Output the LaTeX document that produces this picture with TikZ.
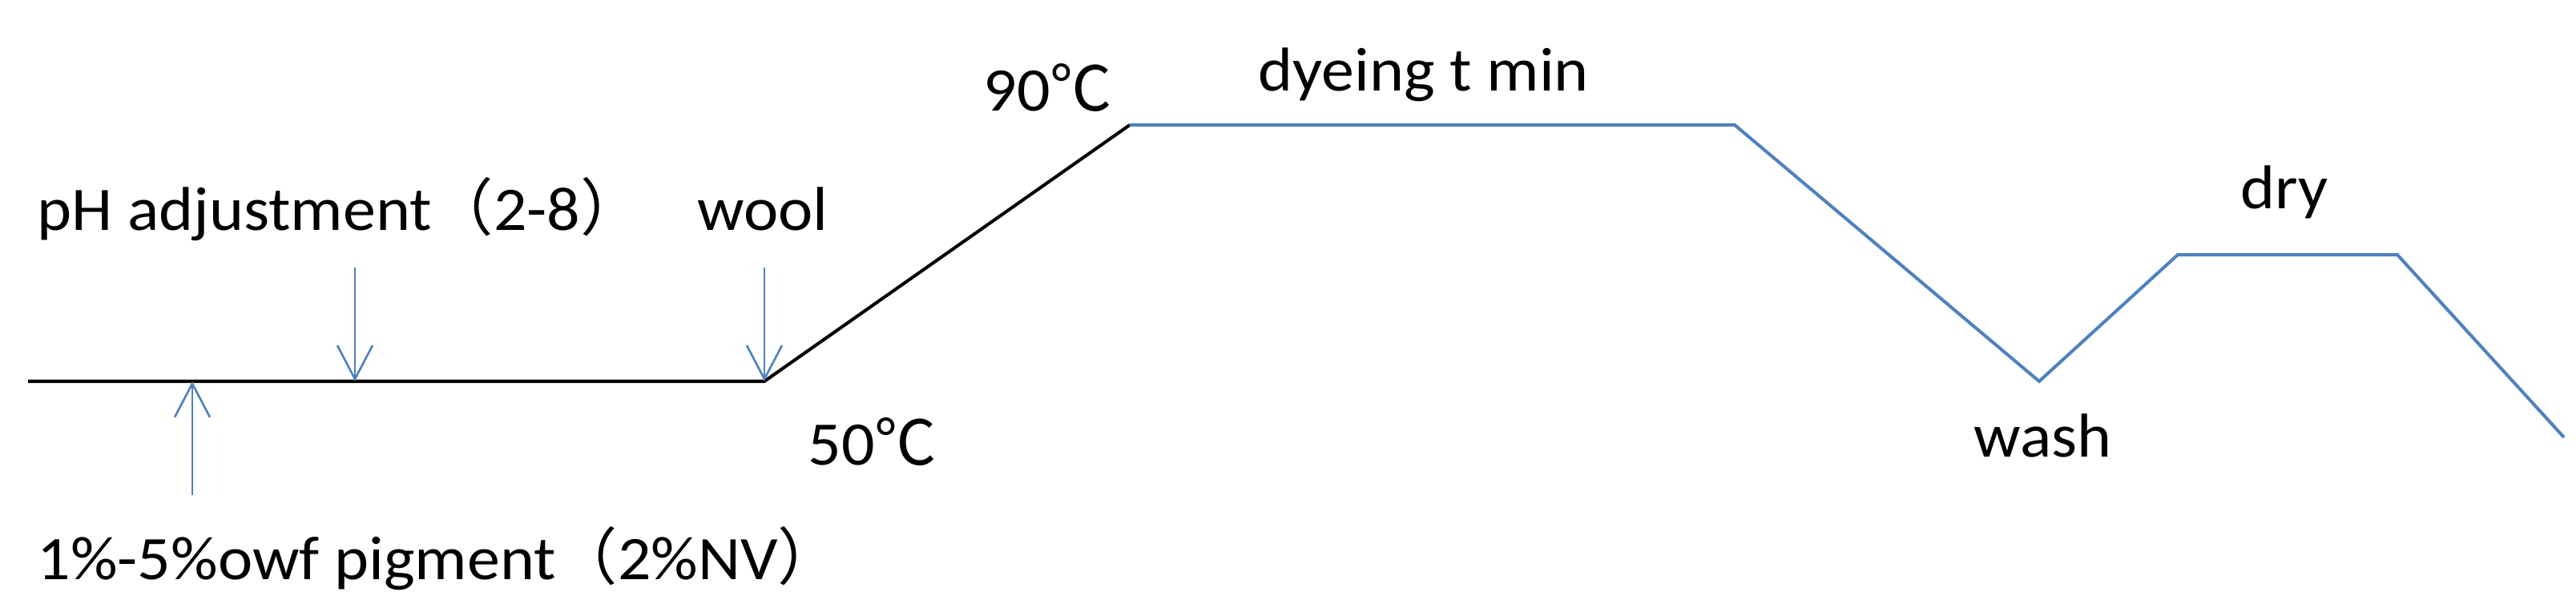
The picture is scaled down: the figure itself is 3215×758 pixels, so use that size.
\documentclass[tikz,border=0pt]{standalone}
\usepackage{fontspec}
\setmainfont{Carlito}[FakeStretch=1.06]
\newfontfamily\cjk{Noto Sans CJK SC}
\usetikzlibrary{arrows.meta}
\definecolor{curveblue}{RGB}{79,129,189}
\tikzstyle{tag} = [font=\fontsize{22}{26}\selectfont, inner sep=0pt, anchor=base west]
\tikzstyle{heat} = [draw=black, line width=1.15pt]
\tikzstyle{stage} = [draw=curveblue, line width=1.15pt]
\tikzstyle{feed} = [draw=curveblue, line width=0.75pt, -{Straight Barb[length=4.2mm,width=4.4mm]}]

\begin{document}
\begin{tikzpicture}[x=0.1mm, y=-0.1mm]
	\useasboundingbox (0,0) rectangle (3215,758);
	% Place points of the curve
	\coordinate (start) at (35,476);
	\coordinate (pig) at (240,476);
	\coordinate (ph) at (443,476);
	\coordinate (low) at (954,476);
	\coordinate (high) at (1410,156);
	\coordinate (hold) at (2165,156);
	\coordinate (wash) at (2545,476);
	\coordinate (dryin) at (2718,318);
	\coordinate (dryout) at (2992,318);
	\coordinate (finish) at (3200,546);
	\coordinate (phtop) at (443,334);
	\coordinate (wooltop) at (954,334);
	\coordinate (pigtail) at (240,618);
	%
	\path [heat] (start) -- (low) -- (high);
	\path [stage] (high) -- (hold) -- (wash) -- (dryin) -- (dryout) -- (finish);
	\path [feed] (phtop) -- (ph);
	\path [feed] (wooltop) -- (low);
	\path [feed] (pigtail) -- (pig);
	
	% Place texts
	\node [tag] (phText) at (46,287) {pH adjustment{\cjk （}2-8{\cjk ）}};
	\node [tag] (woolText) at (870,287) {wool};
	\node [tag] (pigText) at (46,723) {1\%-5\%owf pigment{\cjk （}2\%NV{\cjk ）}};
	\node [tag] (highText) at (1227,138) {90{\cjk ℃}};
	\node [tag] (lowText) at (1008,580) {50{\cjk ℃}};
	\node [tag] (dyeText) at (1570,113) {dyeing t min};
	\node [tag] (washText) at (2463,570) {wash};
	\node [tag] (dryText) at (2796,260) {dry};
\end{tikzpicture}
\end{document}
